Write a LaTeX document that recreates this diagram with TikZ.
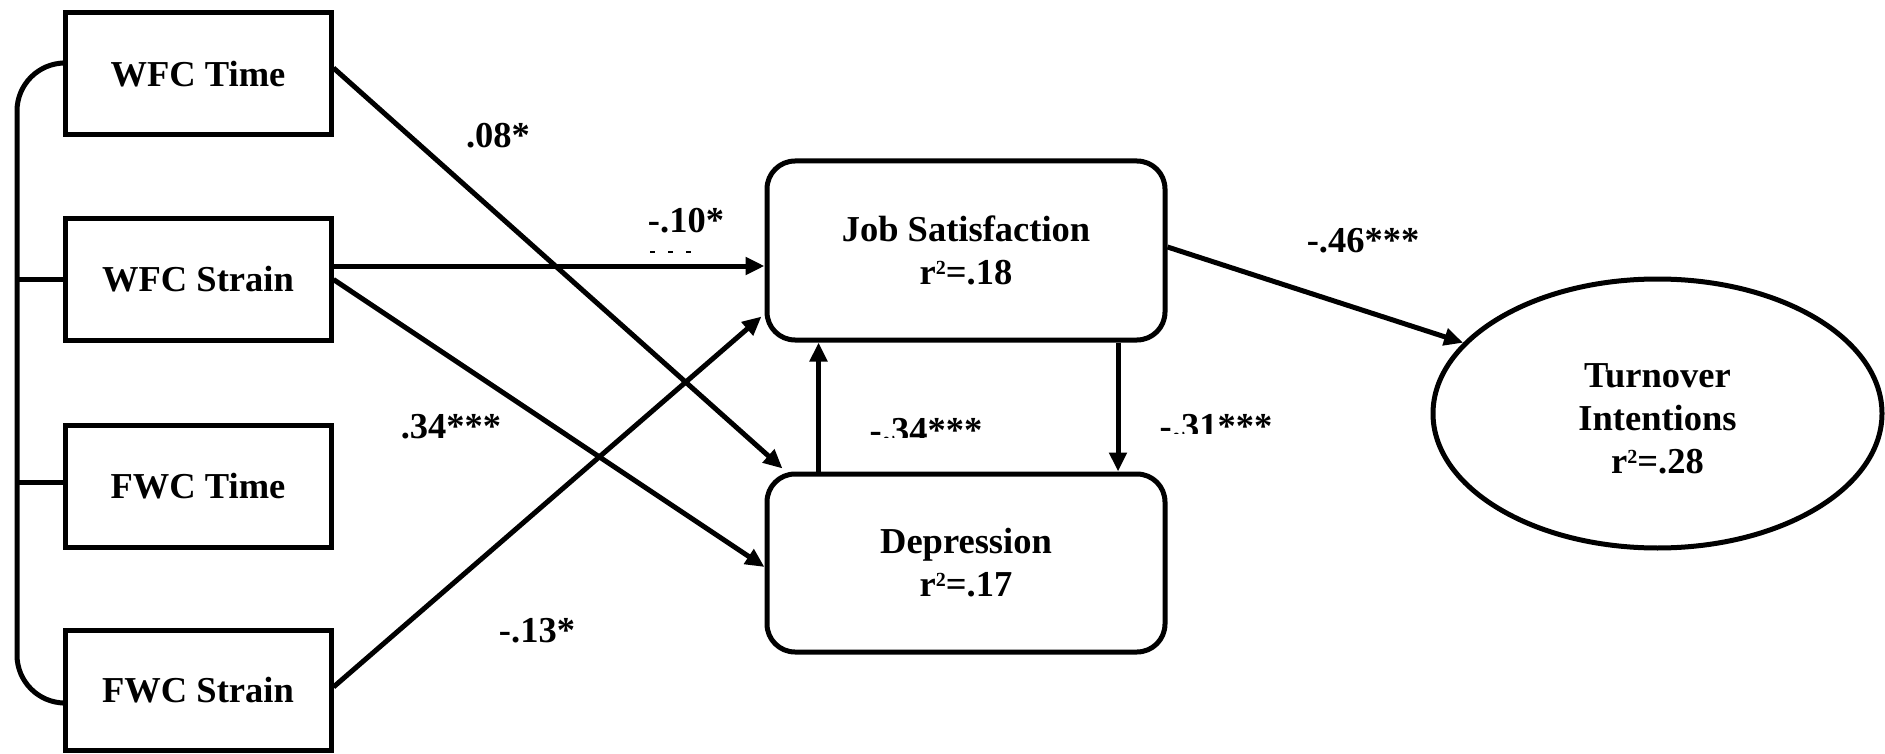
\documentclass[tikz,border=0pt]{standalone}
\usepackage{fontspec}
\setmainfont{Liberation Serif}
\usetikzlibrary{arrows.meta,shapes.geometric}
% small raised exponent, as in r^2
\newcommand{\sqmark}{\raisebox{10pt}{\fontsize{20}{20}\selectfont 2}}
\begin{document}
\begin{tikzpicture}[x=1pt,y=-1pt,
  every node/.style={font=\fontsize{36.5}{43}\selectfont\bfseries},
  box/.style={draw, line width=5pt, minimum width=266pt, minimum height=122pt, inner sep=0pt},
  rbox/.style={draw, line width=5pt, rounded corners=28pt, minimum width=398pt, minimum height=179pt, inner sep=0pt, align=center},
  oval/.style={draw, ellipse, line width=5pt, minimum width=449pt, minimum height=269pt, inner sep=0pt, align=center},
  arr/.style={line width=5pt, -{Triangle[length=19pt,width=17pt]}},
  link/.style={line width=5pt},
  coef/.style={anchor=base, inner sep=0pt}]
\useasboundingbox (0,0) rectangle (1885,754);

% predictors
\node[box] (wt) at (198,74)    {WFC Time};
\node[box] (ws) at (198,279.5) {WFC Strain};
\node[box] (ft) at (198,486)   {FWC Time};
\node[box, minimum height=120pt] (fs) at (198,690) {FWC Strain};

% mediators and outcome
\node[rbox] (js) at (966,250.5) {Job Satisfaction\\r\sqmark=.18};
\node[rbox, minimum height=178pt] (dp) at (966,563) {Depression\\r\sqmark=.17};
\node[oval] (ti) at (1657.5,413.5) {\rule{0pt}{35pt}Turnover\\Intentions\\r\sqmark=.28};

% correlation bracket on the left
\coordinate (bx) at (17,0);
\draw[link, rounded corners=48pt] ([yshift=11pt]wt.west) -- ([yshift=11pt]wt.west -| bx)
  -- ([yshift=-13pt]fs.west -| bx) -- ([yshift=-13pt]fs.west);
\draw[link] (ws.west) -- (ws.west -| bx);
\draw[link] ([yshift=4pt]ft.west) -- ([yshift=4pt]ft.west -| bx);

% paths
\draw[arr] ([yshift=13.5pt]ws.east) -- ([yshift=13.5pt]ws.east -| js.west);
\draw[arr] ([yshift=6pt]wt.east) -- ([xshift=18pt,yshift=3pt]dp.north west);
\draw[arr] (ws.east) -- ([yshift=-4pt]dp.west);
\draw[arr] ([yshift=3pt]fs.east) -- ([xshift=-3pt,yshift=26pt]js.south west);
\draw[arr] ([xshift=54pt]dp.north west) -- ([xshift=54pt]dp.north west |- js.south);
\draw[arr] ([xshift=-49.5pt]js.south east) -- ([xshift=-49.5pt]js.south east |- dp.north);
\draw[arr] ([yshift=3.5pt]js.east) -- (ti.160);

% coefficients
\node[coef] (c1) at (498,148)  {.08*};
\node[coef] (c2) at (686,233)  {-.10*};
\node[coef] (c3) at (451,438)  {.34***};
\node[coef] (c4) at (537,642)  {-.13*};
\node[coef] (c7) at (1363,252) {-.46***};
\draw[line width=1.5pt, dash pattern=on 5pt off 13pt] (650,252) -- (697,252);
\begin{scope}
  \clip (0,0) rectangle (1885,437);
  \node[coef] (c5) at (926,442) {-.34***};
\end{scope}
\begin{scope}
  \clip (0,0) rectangle (1885,433);
  \node[coef] (c6) at (1216,438) {-.31***};
\end{scope}
\end{tikzpicture}
\end{document}
